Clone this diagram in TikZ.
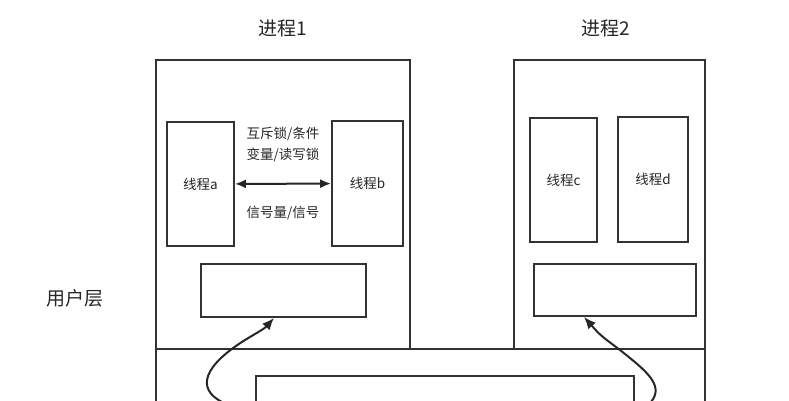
\documentclass[tikz,border=0pt]{standalone}
\usepackage{fontspec}
\setmainfont{Noto Sans CJK SC}
\usetikzlibrary{arrows.meta}
\begin{document}
\begin{tikzpicture}[x=1pt,y=-1pt]
            \tikzstyle{box}=[draw=black!80, line width=1.8pt]
            \tikzstyle{lbl}=[font=\fontsize{13.5}{16}\selectfont, text=black!85]
            \tikzstyle{title}=[font=\fontsize{19}{22}\selectfont, text=black!85]
            \tikzstyle{conn}=[draw=black!85, line width=2pt, -{Latex[length=12pt,width=10pt]}]

            \useasboundingbox (0,0) rectangle (789,400);
            \clip (0,0) rectangle (789,400);

            \node[title] (p1title) at (283,28) {进程1};
            \node[title] (p2title) at (606,28) {进程2};
            \node[title] (user) at (75,298) {用户层};

            \draw[box] (156,60) rectangle (410,349);
            \draw[box] (514,60) rectangle (705,349);
            \draw[box] (156,349) rectangle (705,420);
            \draw[box] (256,376) rectangle (634,420);

            \node[box, minimum width=67, minimum height=124] (ta) at (200.5,184) {};
            \node[lbl] at (ta) {线程a};
            \node[box, minimum width=71, minimum height=125] (tb) at (367.5,183.5) {};
            \node[lbl] at (tb) {线程b};
            \node[box, minimum width=67, minimum height=124] (tc) at (563.5,180) {};
            \node[lbl] at (tc) {线程c};
            \node[box, minimum width=70, minimum height=125] (td) at (653,179.5) {};
            \node[lbl] at (td) {线程d};

            \node[box, minimum width=165, minimum height=53] (r1) at (283.5,290.5) {};
            \node[box, minimum width=162, minimum height=52] (r2) at (615,290) {};

            \draw[draw=black!85, line width=2pt, {Latex[length=11pt,width=9pt]}-{Latex[length=11pt,width=9pt]}] (ta) -- (tb);
            \node[lbl] (l1) at (283,134) {互斥锁/条件};
            \node[lbl] (l2) at (283,155) {变量/读写锁};
            \node[lbl] (l3) at (283,213) {信号量/信号};

            \coordinate (c1) at (222,402);
            \coordinate (c2) at (651,402);
            \draw[conn] (c1) .. controls (195,388) and (205,365) .. (245,340) .. controls (265,328) .. (r1.south -| 274,0);
            \draw[conn] (c2) .. controls (665,385) and (645,370) .. (620,350) .. controls (600,335) .. (r2.south -| 584,0);
        \end{tikzpicture}
\end{document}
